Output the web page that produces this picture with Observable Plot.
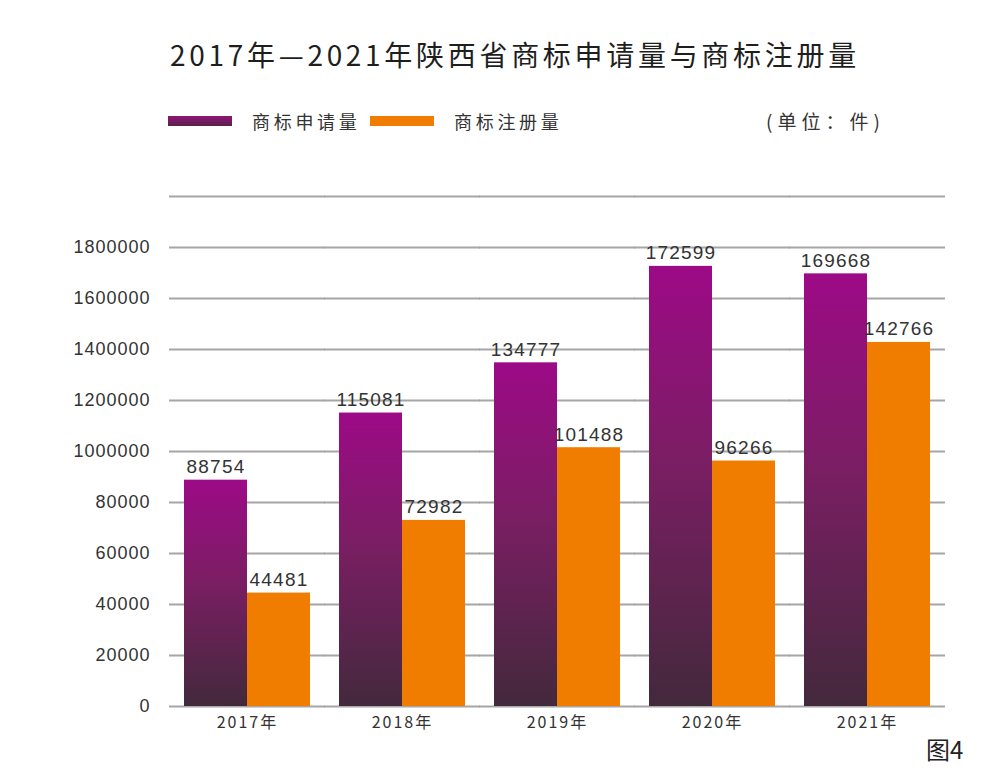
<!DOCTYPE html>
<html>
<head>
<meta charset="utf-8">
<script src="https://cdn.jsdelivr.net/npm/d3@7"></script>
<script src="https://cdn.jsdelivr.net/npm/@observablehq/plot@0.6"></script>
<style>
  html, body { margin: 0; padding: 0; background: #ffffff; }
  #wrap { position: relative; width: 1000px; height: 782px; overflow: hidden; font-family: "Noto Sans CJK SC", "Noto Sans", sans-serif; color: #2a2a2a; }
  #chart { position: absolute; left: 0; top: 0; }
  .abs { position: absolute; white-space: nowrap; }
  #title { left: 170px; top: 34px; font-size: 28px; line-height: 40px; letter-spacing: 3.7px; color: #1e1e1e; }
  .sw { position: absolute; width: 64px; height: 10px; }
  .lg { font-size: 18px; line-height: 26px; letter-spacing: 3.7px; color: #333; }
  #unit { font-size: 19px; line-height: 26px; letter-spacing: 5px; color: #333; }
  #fig { font-size: 24px; line-height: 30px; color: #222; }
  g[aria-label="fx-axis tick label"] text { letter-spacing: 2px; }
  g[aria-label="y-axis tick label"] text { letter-spacing: 1px; }
  g[aria-label="text"] text { letter-spacing: 1.2px; }
</style>
</head>
<body>
<svg width="0" height="0" style="position:absolute">
  <defs>
    <linearGradient id="purpleGrad" x1="0" y1="0" x2="0" y2="1">
      <stop offset="0" stop-color="#9d0a87"/>
      <stop offset="0.45" stop-color="#7a1e63"/>
      <stop offset="1" stop-color="#43293c"/>
    </linearGradient>
  </defs>
</svg>
<div id="wrap">
  <div id="chart"></div>
  <div id="title" class="abs"></div>
  <div id="sw0" class="sw" style="left:168px;top:116px;background:linear-gradient(#8e1679,#5a2049);"></div>
  <div id="lg0" class="abs lg" style="left:252px;top:108px;"></div>
  <div id="sw1" class="sw" style="left:370px;top:116px;background:#f07c00;"></div>
  <div id="lg1" class="abs lg" style="left:454px;top:108px;"></div>
  <div id="unit" class="abs" style="left:766px;top:108px;"></div>
  <div id="fig" class="abs" style="left:926px;top:734px;"></div>
</div>
<script>
const titleText = "2017年—2021年陕西省商标申请量与商标注册量";
const unitText = "(单位：件)";
const figText = "图4";
const years = ["2017年", "2018年", "2019年", "2020年", "2021年"];
const seriesNames = ["商标申请量", "商标注册量"];
const applications = [88754, 115081, 134777, 172599, 169668];
const registrations = [44481, 72982, 101488, 96266, 142766];
const yTickValues = [0, 20000, 40000, 60000, 80000, 100000, 120000, 140000, 160000, 180000];
const yTickLabels = ["0", "20000", "40000", "60000", "80000", "1000000", "1200000", "1400000", "1600000", "1800000"];
const gridValues = [0, 20000, 40000, 60000, 80000, 100000, 120000, 140000, 160000, 180000, 200000];
const seriesColors = ["url(#purpleGrad)", "#f07c00"];

document.getElementById("title").textContent = titleText;
document.getElementById("lg0").textContent = seriesNames[0];
document.getElementById("lg1").textContent = seriesNames[1];
document.getElementById("unit").textContent = unitText;
document.getElementById("fig").textContent = figText;

const rows = [];
years.forEach((y, i) => {
  rows.push({year: y, series: seriesNames[0], value: applications[i]});
  rows.push({year: y, series: seriesNames[1], value: registrations[i]});
});

const chart = Plot.plot({
  width: 1000,
  height: 782,
  marginTop: 196,
  marginBottom: 76,
  marginLeft: 168,
  marginRight: 55,
  style: {fontFamily: "'Noto Sans CJK SC', sans-serif", color: "#333", background: "transparent"},
  fx: {domain: years, paddingInner: 0.19, paddingOuter: 0.095, label: null},
  x: {domain: seriesNames, padding: 0, axis: null},
  y: {domain: [0, 200000], axis: null},
  color: {domain: seriesNames, range: seriesColors},
  marks: [
    Plot.ruleY(gridValues, {stroke: "#a6a6a6", strokeWidth: 2, insetLeft: -15, insetRight: -15}),
    Plot.barY(rows, {fx: "year", x: "series", y: "value", fill: "series"}),
    Plot.text(rows, {
      fx: "year", x: "series", y: "value", text: d => String(d.value),
      lineAnchor: "bottom", dy: -7, fontSize: 19, fill: "#333",
      fontFamily: "'Liberation Sans', Arial, sans-serif"
    }),
    Plot.axisY({
      ticks: yTickValues,
      tickFormat: d => yTickLabels[yTickValues.indexOf(d)],
      tickSize: 0, tickPadding: 34, fontSize: 18, label: null,
      fontFamily: "'Liberation Sans', Arial, sans-serif", fill: "#333"
    }),
    Plot.axisFx({anchor: "bottom", tickSize: 0, tickPadding: 10, fontSize: 16, label: null, fill: "#333"})
  ]
});
document.getElementById("chart").appendChild(chart);
</script>
</body>
</html>
